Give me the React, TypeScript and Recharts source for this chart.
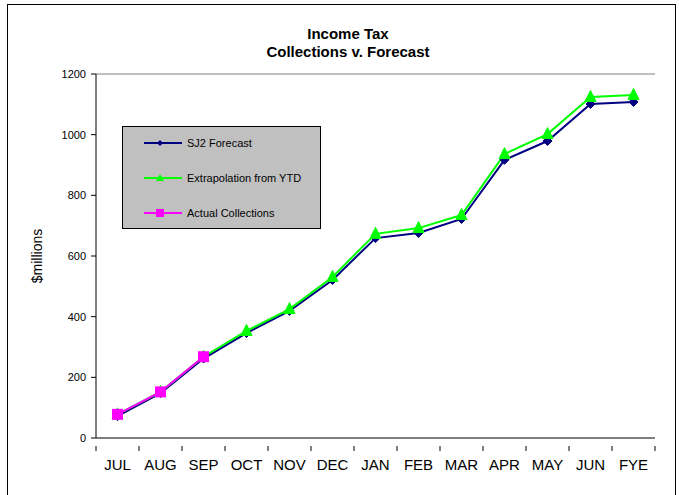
import { LineChart, Line, XAxis, YAxis, Legend, ReferenceLine } from 'recharts';

// Months of the fiscal year plus the full-year estimate.
const months = ['JUL', 'AUG', 'SEP', 'OCT', 'NOV', 'DEC', 'JAN', 'FEB', 'MAR', 'APR', 'MAY', 'JUN', 'FYE'];

// $millions, cumulative
const sj2Forecast = [72, 148, 262, 346, 419, 521, 659, 676, 722, 917, 979, 1101, 1108];
const extrapolation = [78, 152, 268, 353, 425, 531, 673, 692, 735, 936, 1002, 1124, 1131];
const actual: (number | null)[] = [78, 152, 268, null, null, null, null, null, null, null, null, null, null];

const yTicks = [0, 200, 400, 600, 800, 1000, 1200];

const NAVY = '#000080';
const GREEN = '#00FF00';
const PINK = '#FF00FF';
const FONT = '"Liberation Sans", Arial, sans-serif';

const W = 679;
const H = 495;
const PLOT_LEFT = 96;
const PLOT_RIGHT = 655;
const PLOT_TOP = 74;
const PLOT_BOTTOM = 438;
const HALF_BAND = (PLOT_RIGHT - PLOT_LEFT) / months.length / 2;

const data = months.map((m, i) => ({
  month: m,
  forecast: sj2Forecast[i],
  extrap: extrapolation[i],
  actual: actual[i],
}));

function Diamond(props: any) {
  const { cx, cy } = props;
  if (cx == null || cy == null) return null;
  const r = 4.5;
  return <path d={`M${cx},${cy - r}L${cx + r},${cy}L${cx},${cy + r}L${cx - r},${cy}Z`} fill={NAVY} stroke={NAVY} />;
}

function Triangle(props: any) {
  const { cx, cy } = props;
  if (cx == null || cy == null) return null;
  const r = 5.5;
  return <path d={`M${cx},${cy - r - 1}L${cx + r},${cy + r - 1}L${cx - r},${cy + r - 1}Z`} fill={GREEN} stroke={GREEN} />;
}

function Square(props: any) {
  const { cx, cy, value } = props;
  if (cx == null || cy == null || value == null) return null;
  const r = 5.5;
  return <rect x={cx - r} y={cy - r} width={r * 2} height={r * 2} fill={PINK} />;
}

// Category label at the centre, tick marks on the band boundaries.
function MonthTick(props: any) {
  const { x, y, payload, index } = props;
  const last = index === months.length - 1;
  return (
    <g>
      <line x1={x - HALF_BAND} y1={y} x2={x - HALF_BAND} y2={y + 5} stroke="#000" />
      {last && <line x1={x + HALF_BAND} y1={y} x2={x + HALF_BAND} y2={y + 5} stroke="#000" />}
      <text x={x} y={y + 24} textAnchor="middle" fontSize={15} fontFamily={FONT} fill="#000">
        {payload.value}
      </text>
    </g>
  );
}

function LegendBox() {
  const rows = [
    { label: 'SJ2 Forecast', color: NAVY, marker: 'diamond' },
    { label: 'Extrapolation from YTD', color: GREEN, marker: 'triangle' },
    { label: 'Actual Collections', color: PINK, marker: 'square' },
  ];
  return (
    <svg width={200} height={104}>
      <rect x={0.5} y={0.5} width={198} height={102} fill="#C0C0C0" stroke="#000" />
      {rows.map((r, i) => {
        const cy = 17 + i * 35;
        const cx = 38;
        return (
          <g key={r.label}>
            <line x1={22} y1={cy} x2={60} y2={cy} stroke={r.color} strokeWidth={2} />
            {r.marker === 'diamond' && <path d={`M${cx},${cy - 3}L${cx + 3},${cy}L${cx},${cy + 3}L${cx - 3},${cy}Z`} fill={r.color} />}
            {r.marker === 'triangle' && <path d={`M${cx},${cy - 4}L${cx + 4},${cy + 3}L${cx - 4},${cy + 3}Z`} fill={r.color} />}
            {r.marker === 'square' && <rect x={cx - 4} y={cy - 4} width={8} height={8} fill={r.color} />}
            <text x={65} y={cy + 4} fontSize={11} fontFamily={FONT} fill="#000">
              {r.label}
            </text>
          </g>
        );
      })}
    </svg>
  );
}

export default function App() {
  return (
    <div style={{ position: 'absolute', left: 0, top: 0, width: W, height: H, background: '#fff', fontFamily: FONT }}>
      <div
        style={{
          position: 'absolute',
          left: 7,
          top: 4,
          width: 669,
          height: 500,
          border: '1px solid #000',
          boxSizing: 'border-box',
        }}
      />
      <div style={{ position: 'absolute', left: 0, top: 25, width: W, textAlign: 'center', fontSize: 15, fontWeight: 'bold', lineHeight: '17.5px', paddingLeft: 17, boxSizing: 'border-box' }}>
        Income Tax
        <br />
        Collections v. Forecast
      </div>
      <div
        style={{
          position: 'absolute',
          left: 37,
          top: 256,
          transform: 'translate(-50%, -50%) rotate(-90deg)',
          fontSize: 14,
          whiteSpace: 'nowrap',
        }}
      >
        $millions
      </div>
      <LineChart
        width={W}
        height={H}
        data={data}
        margin={{ top: PLOT_TOP, right: W - PLOT_RIGHT, bottom: 0, left: 0 }}
      >
        <XAxis
          dataKey="month"
          height={H - PLOT_BOTTOM}
          padding={{ left: HALF_BAND, right: HALF_BAND }}
          axisLine={{ stroke: '#000' }}
          tickLine={false}
          tick={<MonthTick />}
          interval={0}
        />
        <YAxis
          width={PLOT_LEFT}
          domain={[0, 1200]}
          ticks={yTicks}
          tickSize={5}
          tickMargin={5}
          axisLine={{ stroke: '#000' }}
          tickLine={{ stroke: '#000' }}
          tick={{ fontSize: 11, fontFamily: FONT, fill: '#000' }}
        />
        <YAxis
          yAxisId="frame"
          orientation="right"
          width={0}
          domain={[0, 1200]}
          tick={false}
          tickLine={false}
          axisLine={{ stroke: '#808080' }}
        />
        <ReferenceLine y={1200} stroke="#808080" />
        <Legend
          layout="horizontal"
          verticalAlign="middle"
          align="center"
          content={<LegendBox />}
          wrapperStyle={{ position: 'absolute', left: 122, top: 126, width: 200, height: 104 }}
        />
        <Line
          dataKey="forecast"
          name="SJ2 Forecast"
          stroke={NAVY}
          strokeWidth={2}
          dot={<Diamond />}
          isAnimationActive={false}
        />
        <Line
          dataKey="extrap"
          name="Extrapolation from YTD"
          stroke={GREEN}
          strokeWidth={2}
          dot={<Triangle />}
          isAnimationActive={false}
        />
        <Line
          dataKey="actual"
          name="Actual Collections"
          stroke={PINK}
          strokeWidth={2}
          dot={<Square />}
          connectNulls={false}
          isAnimationActive={false}
        />
      </LineChart>
    </div>
  );
}
